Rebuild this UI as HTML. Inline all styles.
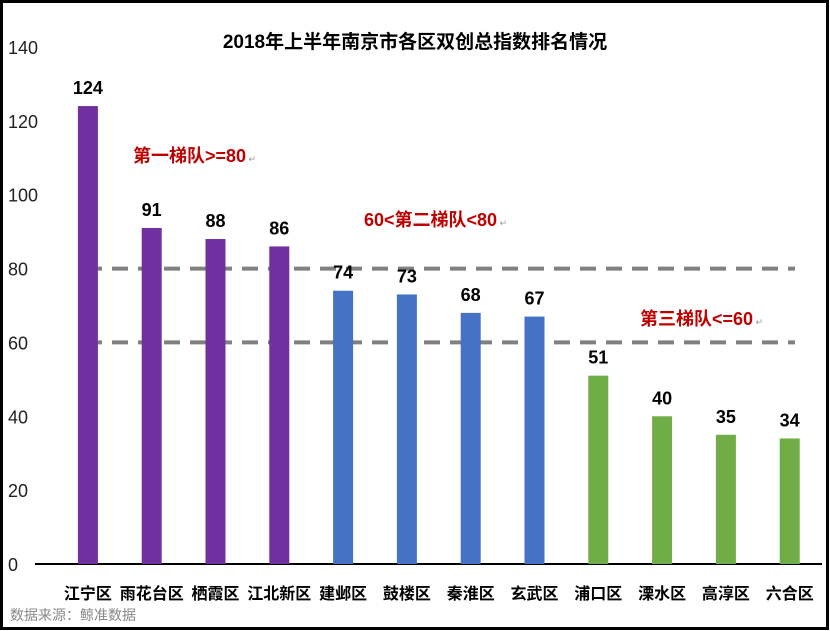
<!DOCTYPE html>
<html><head><meta charset="utf-8"><style>
body{margin:0;background:#fff}
svg{display:block}
text{font-family:"Liberation Sans","Noto Sans CJK SC",sans-serif}
</style></head><body>
<svg id="chart" width="830" height="631" xmlns="http://www.w3.org/2000/svg">
<rect x="1.5" y="1.5" width="826" height="627" fill="#fff" stroke="#000" stroke-width="3"/>
<text x="415" y="48" text-anchor="middle" font-size="19" font-weight="bold">2018年上半年南京市各区双创总指数排名情况</text>
<g id="yaxis"></g><g id="refs"></g><g id="bars"></g><g id="xlabels"></g>
<text x="133" y="162" font-size="18" font-weight="bold" fill="#c00000">第一梯队&gt;=80<tspan fill="#999" font-size="9" font-weight="normal"> ↵</tspan></text>
<text x="364" y="226" font-size="18" font-weight="bold" fill="#c00000">60&lt;第二梯队&lt;80<tspan fill="#999" font-size="9" font-weight="normal"> ↵</tspan></text>
<text x="640" y="325" font-size="18" font-weight="bold" fill="#c00000">第三梯队&lt;=60<tspan fill="#999" font-size="9" font-weight="normal"> ↵</tspan></text>
<text x="10" y="620" font-size="14" fill="#888">数据来源：鲸准数据</text>
</svg>
<script>
const categories=["江宁区","雨花台区","栖霞区","江北新区","建邺区","鼓楼区","秦淮区","玄武区","浦口区","溧水区","高淳区","六合区"];
const values=[124,91,88,86,74,73,68,67,51,40,35,34];
const tiers=[1,1,1,1,2,2,2,2,3,3,3,3];
const yTicks=[0,20,40,60,80,100,120,140];
const refLines=[60,80];
const colors={1:"#7030a0",2:"#4472c4",3:"#70ad47"};
const NS="http://www.w3.org/2000/svg";
const y0=564,pxPer=517/140,x0=56,step=63.8;
const Y=v=>y0-v*pxPer, X=i=>x0+step*(i+0.5);
function mk(tag,attrs,parent,txt){const e=document.createElementNS(NS,tag);for(const k in attrs)e.setAttribute(k,attrs[k]);if(txt!==undefined)e.textContent=txt;parent.appendChild(e);return e;}
const ya=document.getElementById('yaxis');
yTicks.forEach(t=>{const e=mk('text',{x:8,y:Y(t)+7,'font-size':18,fill:'#222'},ya,String(t));

});
const ax=mk('line',{x1:35,x2:822,y1:y0,y2:y0,stroke:'#000','stroke-width':2},ya);


const rg=document.getElementById('refs');
refLines.forEach(r=>{const l=mk('line',{x1:86,x2:795,y1:Y(r),y2:Y(r),stroke:'#808080','stroke-width':4,'stroke-dasharray':'16,10'},rg);

});
const bg=document.getElementById('bars'),xg=document.getElementById('xlabels');
values.forEach((v,i)=>{const cx=X(i);
const b=mk('rect',{x:cx-10,y:Y(v),width:20,height:y0-Y(v),fill:colors[tiers[i]]},bg);


const t=mk('text',{x:cx,y:Y(v)-12,'text-anchor':'middle','font-size':18,'font-weight':'bold'},bg,String(v));


const c=mk('text',{x:cx,y:599,'text-anchor':'middle','font-size':16,'font-weight':'bold'},xg,categories[i]);

});
</script>
</body></html>
